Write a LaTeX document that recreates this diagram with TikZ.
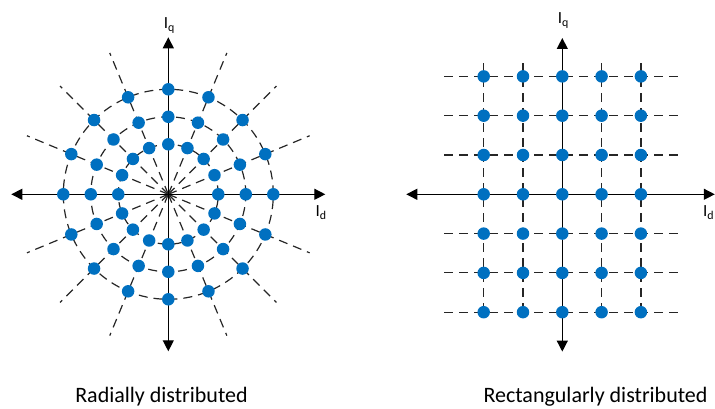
\documentclass[tikz,border=0pt]{standalone}
\usepackage{fontspec}
\setmainfont{Carlito}
\usetikzlibrary{arrows.meta}

\definecolor{dotblue}{RGB}{0,112,192}

\tikzset{
	dot/.style={circle, fill=dotblue, inner sep=0pt, minimum size=12.5pt},
	guide/.style={draw=black!85, line width=1.2pt, dash pattern=on 9pt off 6pt},
	axis/.style={draw=black, line width=1.3pt, {Triangle[length=11pt,width=11pt]}-{Triangle[length=11pt,width=11pt]}},
	axislabel/.style={font=\fontsize{17}{19}\selectfont, inner sep=0pt},
	caption/.style={font=\fontsize{22}{25}\selectfont, inner sep=0pt}
}

\begin{document}
\begin{tikzpicture}[x=1pt,y=1pt]
	\useasboundingbox (0,0) rectangle (715,409);

	% radially distributed
	\begin{scope}[shift={(168.3,214.7)}]
		\coordinate (lo) at (0,0);
		\foreach \a in {22.5,45,67.5,112.5,135,157.5,202.5,225,247.5,292.5,315,337.5}
			\draw[guide] (lo) -- (\a:153);
		\foreach \r in {50,77.5,105}
			\draw[guide] (lo) circle (\r);
		\coordinate (lw) at (-157,0);
		\coordinate (le) at (157,0);
		\coordinate (ls) at (0,-157);
		\coordinate (ln) at (0,157);
		\draw[axis] (lw) -- (le);
		\draw[axis] (ls) -- (ln);
		\node[axislabel] (lq) at (1,169) {I\textsubscript{q}};
		\node[axislabel, anchor=west] (ld) at (147,-18) {I\textsubscript{d}};
		\foreach \r [count=\i] in {50,77.5,105}
			\foreach \k in {0,...,15}
				\node[dot] (r\i-\k) at (\k*22.5:\r) {};
	\end{scope}

	% rectangularly distributed
	\begin{scope}[shift={(562.3,214.7)}]
		\foreach \row in {-3,-2,-1,1,2,3}
			\draw[guide] (-118,\row*39.3) -- (119,\row*39.3);
		\foreach \col in {-2,-1,1,2}
			\draw[guide] (\col*39.3,131) -- (\col*39.3,-118);
		\coordinate (rw) at (-156,0);
		\coordinate (re) at (152.5,0);
		\coordinate (rs) at (0,-157.3);
		\coordinate (rn) at (0,156.3);
		\draw[axis] (rw) -- (re);
		\draw[axis] (rs) -- (rn);
		\node[axislabel] (rq) at (1,174) {I\textsubscript{q}};
		\node[axislabel, anchor=east] (rd) at (152,-18) {I\textsubscript{d}};
		\foreach \col in {-2,...,2}
			\foreach \row in {-3,...,3}
				\node[dot] (g\col\row) at (\col*39.3,\row*39.3) {};
	\end{scope}

	\node[caption] (capl) at (161.5,12) {Radially distributed};
	\node[caption] (capr) at (595.5,12) {Rectangularly distributed};
\end{tikzpicture}
\end{document}
